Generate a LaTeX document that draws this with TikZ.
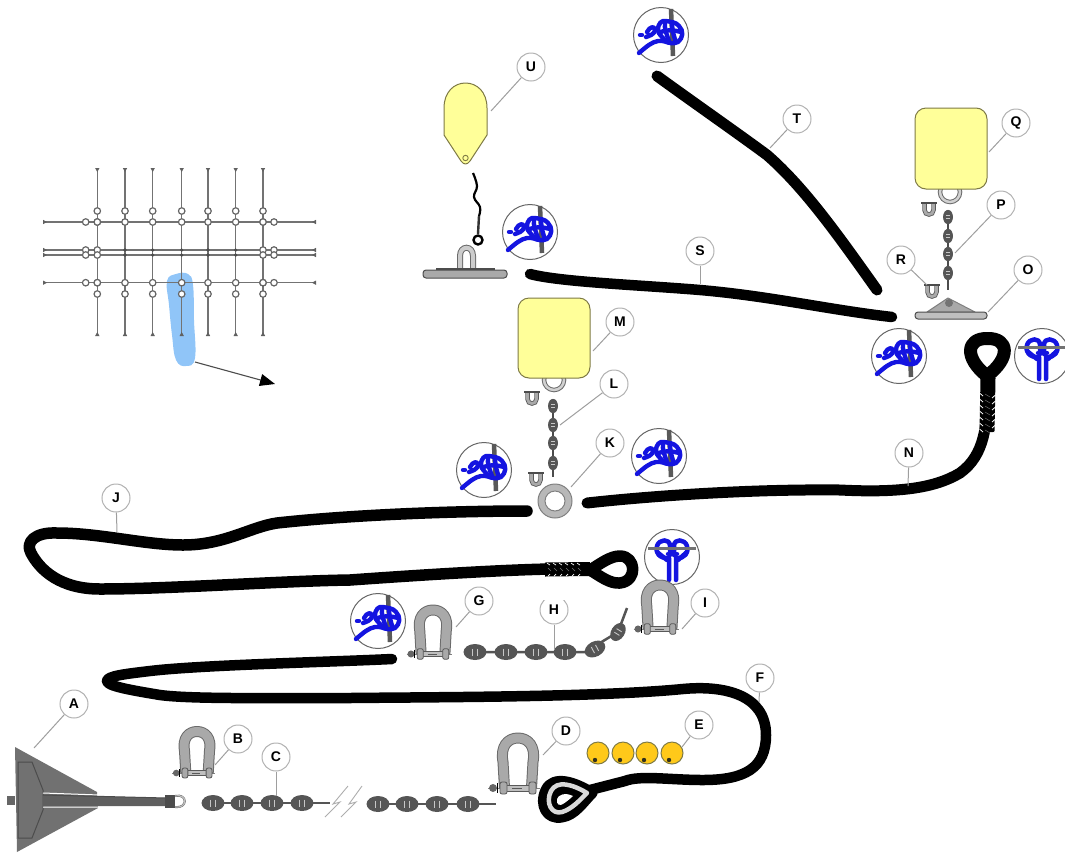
\documentclass[tikz,border=0pt]{standalone}
\usepackage{fontspec}
\setmainfont{Liberation Sans}
\usetikzlibrary{arrows.meta}
\definecolor{rope}{HTML}{000000}
\definecolor{knotblue}{HTML}{1414E0}
\definecolor{floaty}{HTML}{FFFF99}
\definecolor{floatb}{HTML}{7E7A45}
\definecolor{steel}{HTML}{A9A9A9}
\definecolor{steeld}{HTML}{6A6A6A}
\definecolor{chainc}{HTML}{555555}
\definecolor{ballc}{HTML}{FFC91A}
\definecolor{bandc}{HTML}{90C5F8}
\tikzset{
  lab/.style={circle,draw=black!30,line width=1pt,fill=white,minimum size=28pt,inner sep=0pt,font=\bfseries\fontsize{14}{14}\selectfont},
  lead/.style={draw=black!38,line width=1pt},
  roped/.style={draw=rope,line width=#1,line cap=round,line join=round},
  roped/.default=11pt,
  grid line/.style={draw=black!55,line width=1.2pt},
  gring/.style={circle,draw=black!60,line width=1.2pt,fill=white,minimum size=6.5pt,inner sep=0pt},
  clove/.pic={
    \draw[black!60,line width=1pt,fill=white] (0,0) circle (27.5);
    \draw[black!65,line width=4.5pt] (10,-26) -- (12,21);
    \begin{scope}[draw=knotblue,line width=4.4pt,line cap=round,line join=round]
      \draw (-22,18) .. controls (-14,11) and (-9,7) .. (-3,6) .. controls (3,5) and (6,8) .. (10,8);
      \draw (-21,0) -- (-19,0);
      \draw (-14,-3) .. controls (-11,-9) and (-6,-9) .. (-6,-5) .. controls (-6,-1) and (-12,1) .. (-15,2);
      \draw (-3,-5) .. controls (-3,-12) and (1,-15) .. (5,-14) .. controls (10,-13) and (15,-13) .. (18,-9) .. controls (23,-4) and (22,3) .. (17,7) .. controls (13,9) and (7,9) .. (3,4) .. controls (0,1) and (-3,-2) .. (-3,-5);
      \draw (4,-13) .. controls (3,-6) and (6,0) .. (8,6);
      \draw (11,-12) .. controls (11,-5) and (13,2) .. (15,7);
      \draw (-2,-2) .. controls (5,-6) and (13,-5) .. (20,-3);
    \end{scope}
  },
  bowline/.pic={
    \draw[black!60,line width=1pt,fill=white] (0,0) circle (27.5);
    \begin{scope}[draw=knotblue,line width=4.5pt,line cap=round,line join=round]
      \draw (-3,23) -- (-3,1) .. controls (-13,2) and (-17,-5) .. (-15,-11) .. controls (-13,-18) and (-2,-19) .. (-2,-11) -- (-2,-2);
      \draw (4,23) -- (4,1) .. controls (13,2) and (17,-5) .. (15,-11) .. controls (13,-18) and (2,-19) .. (2,-11) -- (2,-2);
      \draw (-15,-5) -- (-5,3);
      \draw (15,-5) -- (6,3);
      \draw (-4,-3) -- (5,-3);
    \end{scope}
    \draw[black!55,line width=3pt] (-24,-9) -- (24,-9);
  },
  shack/.pic={
    \draw[black!50,line width=1pt] (-30,0) -- (22,0);
    \fill[black!60] (-25,0) circle (4);
    \draw[steeld,line width=11pt,line join=round] (-13.5,0) -- (-15,-26) .. controls (-18,-42) and (-10,-50) .. (0,-50) .. controls (10,-50) and (18,-42) .. (15,-26) -- (13.5,0);
    \draw[steel,line width=9pt,line join=round] (-13.5,-1) -- (-15,-26) .. controls (-18,-42) and (-10,-50) .. (0,-50) .. controls (10,-50) and (18,-42) .. (15,-26) -- (13.5,-1);
    \draw[black!65,fill=black!25,line width=.8pt] (-12,-3) rectangle (12,3);
    \draw[black!65,fill=steel,line width=.8pt,rounded corners=2pt] (-18,-6) rectangle (-11,6);
    \draw[black!65,fill=steel,line width=.8pt,rounded corners=2pt] (11,-6) rectangle (18,6);
    \draw[black,line width=1pt] (-21,-5) -- (-21,5);
    \draw[black!65,line width=1pt] (-6,0) -- (4,0);
  },
  linkc/.pic={
    \fill[chainc] (0,0) ellipse (11.5 and 8);
    \draw[black!22,line width=.9pt] (-2.5,-3.5) -- (-2.5,3.5) (2.5,-3.5) -- (2.5,3.5);
  },
  minishack/.pic={
    \draw[black!65,line width=4.5pt] (-4.5,-6) -- (-4.5,1) .. controls (-4.5,7) and (4.5,7) .. (4.5,1) -- (4.5,-6);
    \draw[steel,line width=2.8pt] (-4.5,-5) -- (-4.5,1) .. controls (-4.5,7) and (4.5,7) .. (4.5,1) -- (4.5,-5);
    \draw[black!70,line width=2pt] (-8,-6) -- (8,-6);
  },
  ball/.pic={
    \draw[floatb,fill=ballc,line width=1pt] (0,0) circle (11);
    \fill[black!60!floatb] (-3,7) circle (2.2);
  },
  floatbox/.style={draw=floatb,fill=floaty,line width=1pt,rounded corners=11pt},
}
\begin{document}
\begin{tikzpicture}[x=1pt,y=-1pt,line cap=butt]
\useasboundingbox (0,0) rectangle (1065,852);

% ---------- inset grid
\fill[bandc] plot[smooth cycle,tension=.7] coordinates {(167,281) (176,274) (188,274) (193,285) (194,320) (195,358) (186,366) (176,360) (172,335) (169,305)};
\foreach \x in {97.3,125,152.7,181.7,208,235.7,263}{
  \draw[grid line] (\x,169) -- (\x,335);
  \fill[black!62] (\x-2.2,168) -- (\x+2.2,168) -- (\x,172) -- cycle;
  \fill[black!62] (\x-2.2,336) -- (\x+2.2,336) -- (\x,332) -- cycle;
}
\foreach \y in {222,250,255,282.7}{
  \draw[grid line] (44,\y) -- (315,\y);
  \fill[black!62] (43,\y-2.2) -- (43,\y+2.2) -- (47,\y) -- cycle;
  \fill[black!62] (316,\y-2.2) -- (316,\y+2.2) -- (312,\y) -- cycle;
  \node[gring] at (85.7,\y) {};
  \node[gring] at (274,\y) {};
  \node[gring] at (97.3,\y) {};
  \node[gring] at (263,\y) {};
}
\foreach \x in {97.3,125,152.7,181.7,208,235.7,263}{
  \node[gring] at (\x,211) {};
  \node[gring] at (\x,222) {};
  \node[gring] at (\x,282.7) {};
  \node[gring] at (\x,294) {};
}
\foreach \x in {125,152.7,181.7,208,235.7}{
  \fill[black!70] (\x,250) circle (1.8);
  \fill[black!70] (\x,255) circle (1.8);
}
\coordinate (arrA) at (195,362);
\coordinate (arrB) at (275,384);
\draw[black!70,line width=1.1pt,-{Triangle[length=15pt,width=12pt,fill=black,color=black]}] (arrA) -- (arrB);

% ---------- float U with wire and plate
\draw[floatb,fill=floaty,line width=1pt,line join=round] (444,135) -- (444,108) .. controls (444,92) and (454,83) .. (465.5,83) .. controls (477,83) and (487,92) .. (487,108) -- (487,135) -- (470,161) .. controls (467,165) and (464,165) .. (461,161) -- cycle;
\draw[floatb,line width=.9pt] (465.5,158) circle (2.7);
\draw[black,line width=2.2pt,line join=round] plot[smooth,tension=.7] coordinates {(473,173) (477,186) (474,197) (480,207) (479,216)};
\draw[black!80,line width=2.4pt] (479,216) -- (478,234);
\draw[black,line width=2.4pt] (478,240) circle (4.5);
\draw[steeld,line width=6pt] (460,271) -- (460,256) .. controls (460,245) and (473,245) .. (473,256) -- (473,271);
\draw[black!20,line width=4pt] (460,271) -- (460,256) .. controls (460,245) and (473,245) .. (473,256) -- (473,271);
\draw[black!70,fill=steel,line width=1pt,rounded corners=3pt] (423,270) rectangle (507,278);
\draw[black!70,line width=1.2pt] (436,269) -- (495,269);
\pic at (530,232) {clove};

% ---------- rope T and S
\draw[roped=11pt] (657,76) .. controls (690,100) and (740,135) .. (767,155) .. controls (805,188) and (840,238) .. (877,290);
\draw[roped=10.5pt] (530,274) .. controls (560,282) and (640,285) .. (700,290) .. controls (770,296) and (830,310) .. (892,317);
\pic at (661,35) {clove};

% ---------- float Q group
\draw[steeld,fill=white,line width=4.5pt] (950,192) circle (10);
\draw[black!18,line width=2.5pt] (950,192) circle (10);
\draw[floatbox] (915,108) rectangle (987,189);
\pic at (929,209) {minishack};
\pic at (932,291) {minishack};
\draw[black!70,line width=2pt] (948,217) -- (948,290);
\foreach \yy in {217,236,254,273}{ \pic[rotate=90,scale=.62] at (948,\yy) {linkc}; }
\draw[black!50,fill=steel,line width=1pt,line join=round] (927,312) -- (948,298) -- (975,312) -- cycle;
\fill[black!55] (949,303) circle (4);
\draw[black!70,fill=black!25,line width=1pt,rounded corners=3pt] (915,312) rectangle (987,319);
\pic at (899,356) {clove};

% ---------- rope N
\draw[roped=11pt] (587,503) .. controls (650,496) and (750,489) .. (840,490) .. controls (900,493) and (935,488) .. (960,473) .. controls (985,455) and (987,425) .. (988,390) -- (987,373);
\draw[rope,line width=15pt] (987,432) -- (988,378);
\draw[rope,line width=13pt,line join=round] (987,376) .. controls (964,358) and (966,338) .. (987.5,338.5) .. controls (1009,338) and (1011,358) .. (987,376) -- cycle;
\foreach \yy in {393,399,...,429}{
  \draw[white,line width=.8pt] (979.5,\yy) -- (983,\yy+3);
  \draw[white,line width=.8pt] (995.5,\yy+2) -- (992,\yy+5);
  \draw[black!55,line width=.5pt] (985,\yy+1) -- (990,\yy+4);
}
\pic at (1042,356) {bowline};

% ---------- float M group
\draw[steeld,fill=white,line width=4.5pt] (554,380) circle (10);
\draw[black!18,line width=2.5pt] (554,380) circle (10);
\draw[floatbox] (518,298) rectangle (590,378);
\pic at (532,398) {minishack};
\pic at (536,479) {minishack};
\draw[black!70,line width=2pt] (553,406) -- (553,477);
\foreach \yy in {406,425,443,463}{ \pic[rotate=90,scale=.62] at (553,\yy) {linkc}; }
\draw[black!50,fill=black!28,line width=1pt] (555,501) circle (17);
\draw[black!50,fill=white,line width=1pt] (555,501) circle (10);
\pic at (484,470) {clove};
\pic at (659,456) {clove};

% ---------- rope J
\draw[roped=11.5pt] (527,511) .. controls (450,511) and (350,515) .. (277,523) .. controls (250,527) and (225,545) .. (183,545) .. controls (145,545) and (100,533) .. (57,533) .. controls (35,532) and (25,542) .. (31,553) .. controls (40,570) and (60,589) .. (100,589) .. controls (170,589) and (280,581) .. (350,580) .. controls (420,575) and (500,570) .. (550,569) -- (585,570);
\draw[rope,line width=14pt] (545,569.5) -- (590,569);
\draw[rope,line width=11.5pt,line join=round] (590,570) .. controls (600,564) and (610,556) .. (620,556) .. controls (636,556) and (638,581) .. (620,583) .. controls (610,584) and (600,576) .. (590,570) -- cycle;
\foreach \xx in {547,553,...,580}{
  \draw[white,line width=.7pt] (\xx,563) -- (\xx+3,565);
  \draw[white,line width=.7pt] (\xx+1,576) -- (\xx+3,574);
  \draw[black!55,line width=.5pt] (\xx+1,568) -- (\xx+4,571);
}
\pic at (672,557) {bowline};

% ---------- middle row: knot, shackles, chain
\pic at (378,621) {clove};
\pic[scale=.88] at (433,654) {shack};
\draw[chainc,line width=2.5pt] (475,652) -- (585,652) -- (618,632) -- (627,608);
\foreach \xx in {475,506,536,565}{ \pic at (\xx,652) {linkc}; }
\pic[rotate=28,scale=.95] at (595,649) {linkc};
\pic[rotate=58,scale=.85] at (618,632) {linkc};
\pic[scale=.88] at (660,629) {shack};

% ---------- rope F and thimble
\draw[roped=10.5pt] (392,659) .. controls (330,662) and (200,665) .. (150,671) .. controls (125,674) and (107,676) .. (107,681) .. controls (107,686) and (130,690) .. (160,695) .. controls (190,699) and (260,698) .. (350,698) .. controls (450,697) and (600,697) .. (683,689) .. controls (725,685) and (766,695) .. (766,735) .. controls (766,768) and (745,780) .. (703,780) .. controls (670,780) and (640,775) .. (625,781) -- (590,790);
\draw[rope,line width=11pt,fill=black,line join=round] (592,793) .. controls (575,782) and (553,775) .. (546,790) .. controls (539,805) and (547,820) .. (562,817) .. controls (575,815) and (583,802) .. (592,793) -- cycle;
\draw[black!15,line width=4.5pt,fill=black,line join=round] (587,793) .. controls (572,784) and (557,780) .. (551,791) .. controls (545,803) and (552,815) .. (562,812) .. controls (572,809) and (580,800) .. (587,793) -- cycle;
\fill[white] (573,796) .. controls (565,792) and (558,795) .. (557,799) .. controls (556,805) and (560,806) .. (563,804) .. controls (566,802) and (570,799) .. (573,796) -- cycle;

% ---------- anchor
\fill[steeld!95] (15,747) -- (97,792) -- (98,808) -- (17,852) -- cycle;
\draw[black!70,line width=1pt] (18,762) -- (32,762) -- (43,790) -- (43,810) -- (32,838) -- (18,838) -- cycle;
\fill[black!60] (7,796) -- (15,796) -- (15,805) -- (7,805) -- cycle;
\draw[white,line width=1pt] (43,793) -- (100,795) (43,807) -- (98,807);
\fill[steeld!90!black] (43,795) -- (167,798) -- (167,806) -- (43,806) -- cycle;
\draw[black!70,line width=1pt] (43,795) -- (167,798);
\fill[black!70] (165,795) rectangle (175,808);
\draw[black!65,fill=white,line width=2pt] (175,796) .. controls (188,793) and (188,809) .. (175,807);
\draw[black!25,line width=1.2pt] (175,796) .. controls (188,793) and (188,809) .. (175,807);

\pic[scale=.83] at (197,773) {shack};
\draw[chainc,line width=2.5pt] (213,803) -- (330,803);
\foreach \xx in {213,242,272,302}{ \pic at (\xx,803) {linkc}; }
\draw[black!32,line width=.9pt] (325,817) -- (340,802) -- (333,804) -- (348,786);
\draw[black!32,line width=.9pt] (341,817) -- (356,802) -- (349,804) -- (362,786);
\draw[chainc,line width=2.5pt] (378,804) -- (496,804);
\foreach \xx in {378,407,437,468}{ \pic at (\xx,804) {linkc}; }
\pic at (518,788) {shack};
\foreach \xx in {598,623,647,672}{ \pic at (\xx,753) {ball}; }

% ---------- labels
\coordinate (cA) at (34,748);
\coordinate (cB) at (215,765);
\coordinate (cC) at (276,796);
\coordinate (cD) at (543,755);
\coordinate (cE) at (682,747);
\coordinate (cF) at (759,702);
\coordinate (cG) at (456,627);
\coordinate (cH) at (554,650);
\coordinate (cI) at (682,629);
\coordinate (cJ) at (117,532);
\coordinate (cK) at (571,487);
\coordinate (cL) at (560,425);
\coordinate (cM) at (593,351);
\coordinate (cN) at (908,486);
\coordinate (cO) at (988,312);
\coordinate (cP) at (955,253);
\coordinate (cQ) at (989,152);
\coordinate (cR) at (927,285);
\coordinate (cS) at (700,284);
\coordinate (cT) at (770,148);
\coordinate (cU) at (491,111);
\node[lab] (lA) at (74,704) {A};
\node[lab] (lB) at (238,739) {B};
\node[lab] (lC) at (276,757) {C};
\node[lab] (lD) at (566,731) {D};
\node[lab] (lE) at (699,725) {E};
\node[lab] (lF) at (760,678) {F};
\node[lab] (lG) at (479,601) {G};
\node[lab] (lH) at (554,610) {H};
\node[lab] (lI) at (705,603) {I};
\node[lab] (lJ) at (116,498) {J};
\node[lab] (lK) at (610,443) {K};
\node[lab] (lL) at (614,384) {L};
\node[lab] (lM) at (620,322) {M};
\node[lab] (lN) at (909,453) {N};
\node[lab] (lO) at (1028,270) {O};
\node[lab] (lP) at (1001,205) {P};
\node[lab] (lQ) at (1016,123) {Q};
\node[lab] (lR) at (901,260) {R};
\node[lab] (lS) at (700,251) {S};
\node[lab] (lT) at (797,119) {T};
\node[lab] (lU) at (531,67) {U};
\foreach \n in {A,B,C,D,E,F,G,H,I,J,K,L,M,N,O,P,Q,R,S,T,U}{ \draw[lead] (l\n) -- (c\n); }
\fill[white] (535,588) rectangle (575,600);
\end{tikzpicture}
\end{document}
